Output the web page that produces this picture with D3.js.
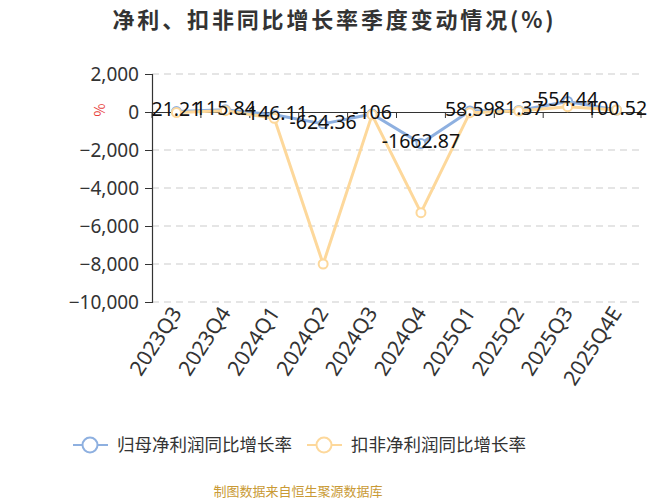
<!DOCTYPE html>
<html>
<head>
<meta charset="utf-8">
<script src="https://cdn.jsdelivr.net/npm/d3@7"></script>
<style>
  body{margin:0;background:#fff;}
  svg text{font-family:"Noto Sans CJK SC","Noto Sans",sans-serif;}
</style>
</head>
<body>
<div id="chart"></div>
<script>
// 数据
var quarters=["2023Q3","2023Q4","2024Q1","2024Q2","2024Q3","2024Q4","2025Q1","2025Q2","2025Q3","2025Q4E"];
var netGrowth=[21.21,115.84,-146.11,-624.36,-106,-1662.87,58.59,81.37,554.44,100.52];
var deductGrowth=[-30,70,-330,-8000,-150,-5300,-35,50,280,100];
var yTicks=[2000,0,-2000,-4000,-6000,-8000,-10000];
var seriesNames=["归母净利润同比增长率","扣非净利润同比增长率"];
var colors=["#8eb0e0","#fdd89b"];

var width=667,height=500;
var svg=d3.select("#chart").append("svg")
    .attr("width",width)
    .attr("height",height);

// 标题
svg.append("text")
    .attr("x",333).attr("y",28)
    .attr("text-anchor","middle")
    .attr("font-size",22)
    .attr("font-weight","bold")
    .attr("fill","#333")
    .attr("textLength",441)
    .text("净利、扣非同比增长率季度变动情况(%)");

var x=d3.scaleBand().domain(quarters).range([152,641]).padding(0);
var y=d3.scaleLinear().domain([-10000,2000]).range([302,74]);
var cx=function(d,i){return x(quarters[i])+x.bandwidth()/2;};

// 网格线
svg.append("g").selectAll("line")
    .data(yTicks.filter(function(d){return d!==0;}))
    .enter().append("line")
    .attr("x1",152).attr("x2",641)
    .attr("y1",function(d){return y(d);})
    .attr("y2",function(d){return y(d);})
    .attr("stroke","#cccccc")
    .attr("stroke-width",1.2)
    .attr("stroke-dasharray","7,5");

// y轴
var yAxis=svg.append("g")
    .attr("transform","translate(152,0)")
    .call(d3.axisLeft(y).tickValues(yTicks).tickSize(7).tickPadding(6).tickFormat(d3.format(",")));
yAxis.select(".domain").attr("stroke","#333").attr("stroke-width",1.2);
yAxis.selectAll(".tick line").attr("stroke","#333");
yAxis.selectAll("text").attr("font-size",19).attr("fill","#333")
    .style("font-family","'Noto Sans',sans-serif");

svg.append("text")
    .attr("transform","translate(100,110) rotate(-90)")
    .attr("text-anchor","middle")
    .attr("dy","0.35em")
    .attr("font-size",14)
    .attr("fill","#e8403a")
    .text("%");

// x轴 (在0处)
var xAxis=svg.append("g")
    .attr("transform","translate(0,"+y(0)+")")
    .call(d3.axisBottom(x).tickSize(0).tickFormat(""));
xAxis.select(".domain").attr("stroke","#333").attr("stroke-width",1.2);
var bounds=quarters.map(function(q){return x(q);}).concat([x.range()[1]]);
svg.append("g").selectAll("line")
    .data(bounds).enter().append("line")
    .attr("x1",function(d){return d;}).attr("x2",function(d){return d;})
    .attr("y1",y(0)).attr("y2",y(0)+6)
    .attr("stroke","#333");

// x轴标签
svg.append("g").selectAll("text")
    .data(quarters).enter().append("text")
    .attr("transform",function(d){return "translate("+(x(d)+x.bandwidth()/2)+",309) rotate(-57)";})
    .attr("text-anchor","end")
    .attr("dy","0.35em")
    .attr("font-size",21)
    .attr("fill","#333")
    .style("font-family","'Noto Sans',sans-serif")
    .text(function(d){return d;});

// 折线
var line=d3.line()
    .x(function(d,i){return cx(d,i);})
    .y(function(d){return y(d);});
[netGrowth,deductGrowth].forEach(function(series,k){
    svg.append("path")
        .datum(series)
        .attr("fill","none")
        .attr("stroke",colors[k])
        .attr("stroke-width",3)
        .attr("stroke-linejoin","round")
        .attr("d",line);
    svg.append("g").selectAll("circle")
        .data(series).enter().append("circle")
        .attr("cx",cx)
        .attr("cy",function(d){return y(d);})
        .attr("r",4.5)
        .attr("fill","#fff")
        .attr("stroke",colors[k])
        .attr("stroke-width",2);
});

// 数据标签
svg.append("g").selectAll("text")
    .data(netGrowth).enter().append("text")
    .attr("x",cx)
    .attr("y",function(d){return y(d)-2;})
    .attr("text-anchor","middle")
    .attr("dy","0.35em")
    .attr("font-size",19.5)
    .attr("fill","#111")
    .style("font-family","'Noto Sans',sans-serif")
    .text(function(d){return d;});

// 图例
var legendX=[73,307];
seriesNames.forEach(function(name,k){
    var g=svg.append("g").attr("transform","translate("+legendX[k]+",445)");
    g.append("line").attr("x1",0).attr("x2",35).attr("y1",0).attr("y2",0)
        .attr("stroke",colors[k]).attr("stroke-width",2);
    g.append("circle").attr("cx",17).attr("cy",0).attr("r",7.5)
        .attr("fill","#fff").attr("stroke",colors[k]).attr("stroke-width",2);
    g.append("text").attr("x",44).attr("y",0).attr("dy","0.35em")
        .attr("font-size",17.5).attr("fill","#333")
        .text(name);
});

// 来源
svg.append("text")
    .attr("x",298).attr("y",491)
    .attr("text-anchor","middle")
    .attr("dy","0.35em")
    .attr("font-size",13)
    .attr("fill","#c99a35")
    .text("制图数据来自恒生聚源数据库");
</script>
</body>
</html>
